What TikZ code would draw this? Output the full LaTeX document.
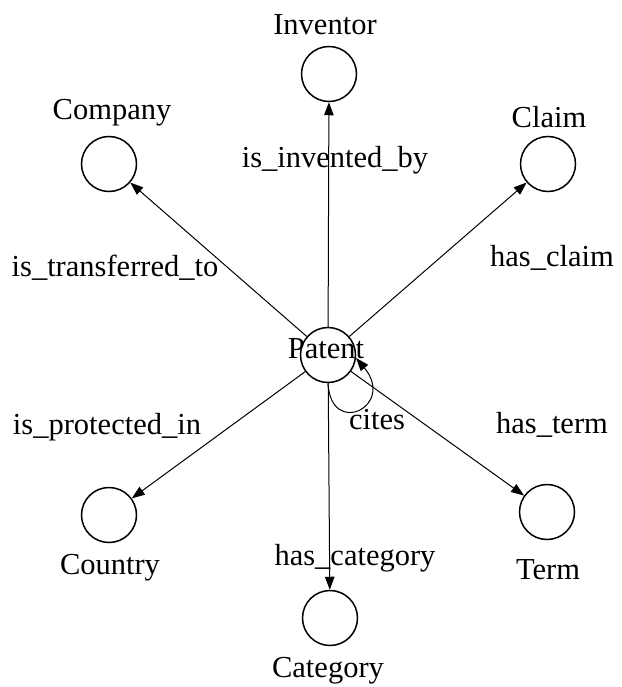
\documentclass[tikz,border=0pt]{standalone}
\usepackage{fontspec}
\setmainfont{Liberation Serif}
\usetikzlibrary{arrows.meta}
\begin{document}
\begin{tikzpicture}[x=1pt,y=-1pt,
  ent/.style={circle,draw,line width=1.5pt,minimum size=55pt,inner sep=0pt},
  lbl/.style={font=\fontsize{30.5}{36}\selectfont,inner sep=0pt},
  rel/.style={-{Triangle[length=13pt,width=9.5pt]},line width=1pt}]
\useasboundingbox (0,0) rectangle (621,687);
% entity circles
\node[ent] (P)  at (328,355) {};
\node[ent] (I)  at (329,74)  {};
\node[ent] (Co) at (109,164) {};
\node[ent] (Cl) at (548,164) {};
\node[ent] (Cn) at (109,515) {};
\node[ent] (Ca) at (330,618) {};
\node[ent] (T)  at (547,512) {};
% entity labels
\node[lbl] (lI)  at (325,25)  {Inventor};
\node[lbl] (lCo) at (112,113) {Company};
\node[lbl] (lCl) at (549,117) {Claim};
\node[lbl] (lCn) at (110,568) {Country};
\node[lbl] (lT)  at (548,570) {Term};
\node[lbl] (lCa) at (328,671) {Category};
% relations
\draw[rel] (P) -- (I);
\draw[rel] (P) -- (Co);
\draw[rel] (P) -- (Cl);
\draw[rel] (P) -- (Cn);
\draw[rel] (P) -- (Ca);
\draw[rel] (P) -- (T);
\draw[rel] (P.-90) .. controls +(3,55) and +(40,48) .. (P.-6);
\node[lbl] (lP) at (326,349) {Patent};
% relation labels
\node[lbl] (r1) at (335,160) {is\_invented\_by};
\node[lbl] (r2) at (115,268) {is\_transferred\_to};
\node[lbl] (r3) at (552,258) {has\_claim};
\node[lbl] (r4) at (107,427) {is\_protected\_in};
\node[lbl] (r5) at (355,558) {has\_category};
\node[lbl] (r6) at (552,425) {has\_term};
\node[lbl] (r7) at (377,420) {cites};
\end{tikzpicture}
\end{document}
